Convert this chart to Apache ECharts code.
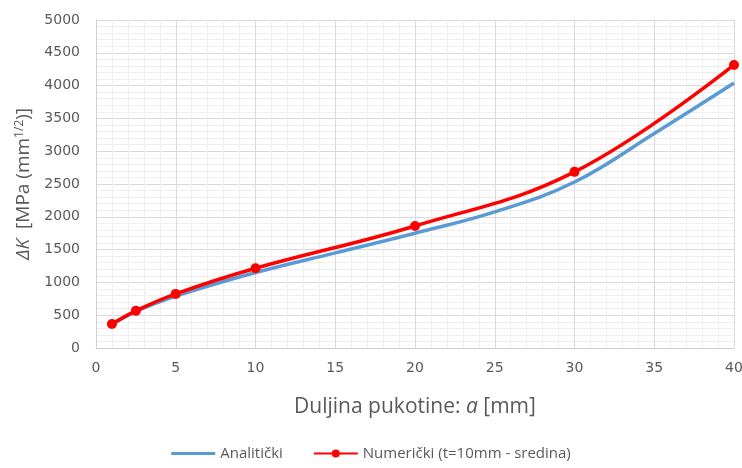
<!DOCTYPE html>
<html><head><meta charset="utf-8">
<script src="https://cdn.jsdelivr.net/npm/echarts@6/dist/echarts.min.js"></script>
<style>html,body{margin:0;padding:0;background:#fff}#c{width:742px;height:468px}</style>
</head><body><div id="c"></div>
<script>
const seriesNames = ['Analitički', 'Numerički (t=10mm - sredina)'];
const analyticA = [1, 2.5, 5, 10, 15, 20, 25, 30, 35, 40];
const analyticK = [360, 555, 790, 1150, 1450, 1750, 2075, 2530, 3270, 4040];
const numericA = [1, 2.5, 5, 10, 20, 30, 40];
const numericK = [366, 566, 825, 1215, 1860, 2685, 4315];

const chart = echarts.init(document.getElementById('c'));
const font = 'Open Sans, Liberation Sans, sans-serif';
const tickFont = 'DejaVu Sans, sans-serif';
chart.setOption({
  animation: false,
  textStyle: { fontFamily: font },
  grid: { left: 96, right: 8, top: 20, bottom: 120, outerBoundsMode: 'none', containLabel: false },
  xAxis: {
    type: 'value', min: 0, max: 40, interval: 5,
    name: 'Duljina pukotine: {i|a} [mm]', nameLocation: 'middle', nameGap: 49,
    nameTextStyle: { fontSize: 21, color: '#595959', fontFamily: font,
      rich: { i: { fontStyle: 'italic', fontSize: 21, color: '#595959', fontFamily: font } } },
    axisLine: { show: true, lineStyle: { color: '#d0d0d0', width: 1 } },
    axisTick: { show: false },
    axisLabel: { fontSize: 14, color: '#595959', margin: 13, fontFamily: tickFont, formatter: v => String(v) },
    splitLine: { show: true, lineStyle: { color: '#d9d9d9' } },
    minorTick: { show: false, splitNumber: 5 },
    minorSplitLine: { show: true, lineStyle: { color: '#efefef' } }
  },
  yAxis: {
    type: 'value', min: 0, max: 5000, interval: 500,
    name: '{i|ΔK}  [MPa (mm{s|1/2})]', nameLocation: 'middle', nameGap: 62, nameRotate: 90,
    nameTextStyle: { fontSize: 19, color: '#595959', fontFamily: font,
      rich: { i: { fontStyle: 'italic', fontSize: 19, color: '#595959', fontFamily: font },
              s: { fontSize: 12, color: '#595959', verticalAlign: 'top', padding: [0,0,8,0], fontFamily: font } } },
    axisLine: { show: true, lineStyle: { color: '#d0d0d0', width: 1 } },
    axisTick: { show: false },
    axisLabel: { fontSize: 14, color: '#595959', margin: 16, fontFamily: tickFont, formatter: v => String(v) },
    splitLine: { show: true, lineStyle: { color: '#d9d9d9' } },
    minorTick: { show: false, splitNumber: 5 },
    minorSplitLine: { show: true, lineStyle: { color: '#efefef' } }
  },
  legend: {
    bottom: 2, left: 'center', itemGap: 30, itemWidth: 44, itemHeight: 10,
    textStyle: { fontSize: 15, color: '#595959' },
    data: [
      { name: seriesNames[0], icon: 'path://M0,4 L44,4 L44,7 L0,7 Z' },
      { name: seriesNames[1] }
    ]
  },
  series: [
    { name: seriesNames[0], type: 'line', smooth: 0.4, showSymbol: false, symbol: 'none',
      data: analyticA.map((a, i) => [a, analyticK[i]]),
      lineStyle: { color: '#5b9bd5', width: 3.5 }, itemStyle: { color: '#5b9bd5' } },
    { name: seriesNames[1], type: 'line', smooth: 0.4, symbol: 'circle', symbolSize: 10,
      data: numericA.map((a, i) => [a, numericK[i]]),
      lineStyle: { color: '#ff0000', width: 3.5 }, itemStyle: { color: '#ff0000' } }
  ]
});
</script></body></html>
